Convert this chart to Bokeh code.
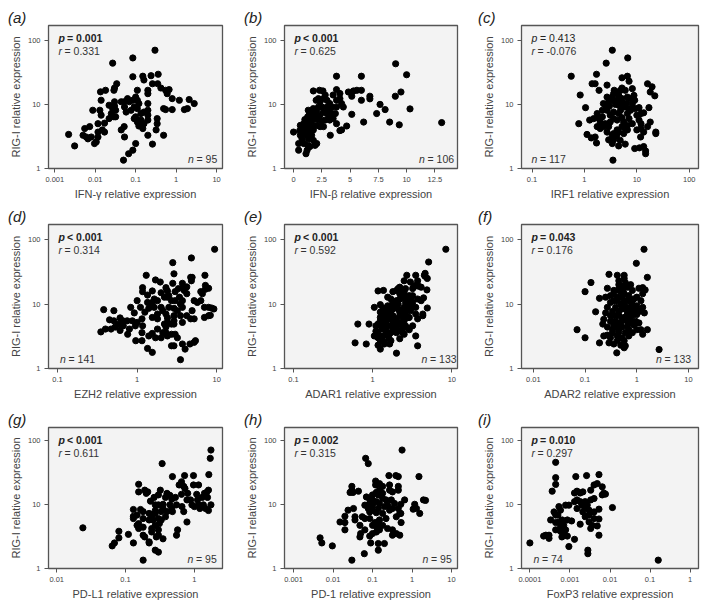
from bokeh.plotting import figure
from bokeh.layouts import row, column
from bokeh.models import Label, FixedTicker, CustomJSTickFormatter, Range1d
from bokeh.embed import file_html
from bokeh.resources import INLINE

FONT = "Liberation Sans"

# ---------------- data ----------------
a_pts = [(0.30,70),(0.027,44),(0.085,53),(0.085,27),(0.15,27.5),(0.24,28),(0.36,29.5),(0.16,24),(0.26,21),(0.35,21),
         (0.42,18),(0.55,16.6),(0.6,14.7),(0.67,17),(0.2,16.6),(0.2,14.7),(0.034,21),(0.030,18),(0.029,16.6),(0.018,16.6),
         (0.0135,15.7),(0.11,16.6),(0.1,13),(0.11,11.6),(0.085,11.6),(0.063,12.3),(0.052,11),(0.07,11),(0.03,11),(0.03,9.4),
         (0.027,8.6),(0.022,9.7),(0.025,7.2),(0.022,6),(0.029,6.4),(0.032,8.1),(0.053,9.1),(0.058,7.6),(0.077,8.1),(0.092,9.1),
         (0.11,8.6),(0.135,7.2),(0.16,7.6),(0.2,8.1),(0.2,10.3),(0.12,10.3),(0.1,6.4),(0.092,6),(0.11,5.3),(0.12,4.6),
         (0.135,5.7),(0.15,4.2),(0.16,5),(0.2,6.8),(0.2,5.7),(0.34,6),(0.34,5),(0.32,4),(0.2,3.3),(0.052,4.5),
         (0.044,4),(0.053,3.1),(0.1,2.45),(0.085,1.93),(0.067,1.7),(0.05,1.35),(0.26,2.4),(0.49,3.3),(0.49,8.6),(0.55,8.3),
         (0.8,8.3),(0.8,12.3),(1.2,11.6),(1.6,8.3),(1.9,8.6),(2.1,11.9),(2.8,10.3),(0.014,6.8),(0.017,5.1),(0.013,8.1),
         (0.0117,5),(0.0087,8.1),(0.0117,3.7),(0.015,4),(0.017,3.7),(0.0117,3.1),(0.008,3.1),(0.0106,2.6),(0.0096,2.45),(0.0073,4.5),
         (0.0055,4.2),(0.005,3.3),(0.006,3.1),(0.0031,2.25),(0.0022,3.4),(0.0066,2.9),(0.032,6.4),(0.044,11),(0.014,11.6)]

b_pts = [(9.03,43),(10,29),(3.8,27.5),(6.0,27.5),(9.0,13.4),(9.5,15.6),(10.3,8.5),(13.1,5.2),(9.35,4.8),(8.5,5.3),
         (7.65,10),(8.1,8.3),(7.35,7.2),(6.75,13.4),(6.75,12.2),(6.2,5.3),(6.0,16.6),(6.0,11.6),(5.15,7),(4.7,4.6),
         (4.25,4.0),(4.1,3.9),(3.8,5),(5.3,16.2),(4.85,15.6),(5.6,16.6),(5.15,13.4),(4.1,14.8),(4.1,12.3),(3.8,17),
         (3.5,14),(4.25,10.3),(4.4,9.1),(3.8,11.6),(3.8,9.1),(3.7,7.2),(3.5,6),(3.2,5.7),(3.4,7.2),(3.1,8.1),
         (3.2,10.3),(2.95,11.6),(2.8,14),(2.6,16.2),(2.3,16.6),(1.75,16.2),(2.65,12.3),(2.35,11),(2.2,9.1),(2.5,9.1),
         (2.05,8.1),(2.65,7.6),(2.95,7.2),(3.1,6),(2.8,5.7),(2.35,6.8),(1.9,7.2),(1.75,8.6),(1.55,7.6),(1.3,8.1),
         (1.4,7),(1.25,6.4),(1.6,6),(1.9,6),(2.2,5.8),(2.5,5.5),(1.6,5),(2.05,4.7),(2.65,4.5),(3.25,3.3),
         (1.2,4.7),(0.9,5),(0.75,4.2),(0.6,4.7),(1.0,4),(1.3,3.9),(0.9,3.5),(0.6,3.3),(1.2,3.3),(0.75,2.9),
         (1.3,2.9),(1.6,3.3),(1.75,2.75),(0.45,2.45),(0.9,2.45),(1.3,2.3),(1.9,2.3),(2.05,2.45),(1.45,2.2),(0.45,1.93),
         (1.2,1.93),(1.1,1.7),(0.0,3.7),(1.6,3.9),(1.3,5.5),(1.0,5.8),(2.0,11.6),(2.2,12.3),(2.95,9.1),(3.4,9.1),
         (0.55,3.9),(0.75,3.7),(1.6,4.5),(1.75,4.0),(2.35,4.5)]

c_pts = [(3.4,70),(6.7,53),(2.6,44),(0.56,27.5),(1.7,29.5),(1.6,21),(1.4,21),(1.9,16.6),(2.7,20),(5.2,26),
         (6.6,27.5),(7.1,23),(8.2,17.6),(16,21),(19.5,18.8),(18,15.6),(22,13.6),(17,8.9),(0.83,14),(1.05,8.9),
         (0.78,5),(1.12,3.4),(1.35,3.0),(1.6,3.1),(1.7,2.5),(1.26,5.7),(1.5,6),(1.9,6),(2.0,5.3),(2.5,5),
         (2.2,6.4),(2.3,4.5),(2.7,3.7),(2.9,4.5),(2.5,9.7),(2.7,8.1),(3.0,9.4),(3.4,11.6),(3.4,13),(3.6,14.7),
         (3.7,16.6),(4.2,15.6),(4.5,13.8),(4.9,16.6),(5.2,18),(6.0,16.6),(4.2,11.6),(3.9,10),(4.9,11),(5.5,9.4),
         (6.3,10.5),(7.6,12.3),(8.8,13.8),(9.1,11.6),(7.1,8.6),(8.2,8.9),(9.4,8.6),(11,8.9),(13.5,7.4),(12,7.2),
         (10,6.8),(4.5,7.2),(3.6,7.6),(3.1,6.8),(5.2,6.2),(4.2,5.7),(5.6,5.3),(7.1,6),(8.2,5),(6.6,4.7),
         (5.2,4.5),(6.0,4.2),(4.2,4),(3.6,3.5),(4.1,3.2),(3.4,3.3),(4.8,2.76),(4.5,2.25),(6.0,2.4),(3.4,2.45),
         (3.5,1.35),(9.1,2.05),(11.2,2.1),(14.7,1.88),(14.7,1.7),(13.5,2.2),(10,4.0),(12,4.2),(13.5,3.7),(16,4.5),
         (11.8,3.1),(23,3.7),(23,3.5),(11,5.7),(12,5),(18,5.3),(1.75,4.5),(2.0,4.2),(1.75,7.2),(2.2,8.1),
         (2.3,10.3),(2.9,11),(2.7,13),(4.5,9.7),(6.0,9.1),(4.9,8.1),(6.6,7.2),(7.6,8.1),(5.2,12.3),(6.6,13),
         (8.2,10.3),(3.6,6),(3.1,5.3),(2.7,4.7),(4.5,3.7),(5.6,3.5),(6.6,4.0),(2.9,2.8),(3.6,2.8)]

d_pts = [(9.4,71),(4.8,52),(2.8,44),(1.3,28),(2.9,29.5),(4.7,26),(4.9,26),(7.1,28),(1.95,22),(1.7,23.7),
         (2.3,18),(2.4,16),(2.8,21),(3.7,21),(3.8,18),(4.2,18.5),(3.4,12.8),(3.0,11.3),(3.5,10),(1.55,16),
         (1.35,13.8),(1.17,18),(1.17,15.6),(1.0,11.3),(1.1,8.9),(1.35,10.6),(1.55,9.4),(1.64,12),(1.8,11.3),(2.0,8.9),
         (2.1,7.9),(1.8,7),(1.55,6.2),(2.3,7),(2.4,6.1),(2.5,8.9),(2.7,11.3),(2.9,8.6),(3.2,7.9),(3.7,8.9),
         (3.5,6.6),(2.9,5.5),(2.7,4.9),(2.3,4.4),(2.1,3.6),(1.8,4.1),(1.55,3.5),(1.4,3.2),(1.7,3.0),(2.0,3.0),
         (2.4,3.2),(2.7,3.4),(3.0,3.4),(3.2,3.0),(2.9,2.25),(2.7,2.25),(3.7,2.4),(4.0,2.0),(4.6,2.4),(5.2,2.55),
         (5.4,2.7),(3.5,1.37),(1.55,1.78),(1.35,2.05),(1.15,3.6),(0.96,2.7),(1.17,4.6),(1.15,5.9),(1.0,5.2),(0.8,4.1),
         (0.67,4.6),(0.76,3.4),(0.61,3.9),(0.53,4.4),(0.58,4.9),(0.51,5.5),(0.45,5.7),(0.47,4.1),(0.4,4.1),(0.35,3.7),
         (0.38,8.2),(0.51,7.9),(0.66,5.5),(0.61,6.1),(0.75,5.5),(0.87,5.5),(0.95,4.6),(0.83,8.9),(0.92,7.3),(1.55,10.6),
         (1.4,8.6),(1.25,7.5),(1.64,8.9),(2.2,12.8),(2.4,12.8),(2.0,15),(2.5,13.5),(3.0,15.6),(3.3,17.4),(3.9,16.3),
         (4.8,23),(4.2,14.5),(6.3,15.6),(6.6,14.5),(7.2,17),(7.9,17.6),(7.2,19.5),(6.3,11.3),(5.2,11.3),(5.7,10.6),
         (4.9,7.9),(5.2,5.9),(4.7,5.9),(7.0,8.9),(7.9,8.9),(8.6,8.7),(7.9,6.6),(7.0,6.2),(9.2,8.4),(8.3,6.7),
         (3.7,11.3),(2.9,6.6),(2.4,5.2),(2.2,4.9),(2.9,4.9),(3.7,5.2),(4.2,6.6),(1.8,5.9),(2.3,3.6),(1.15,2.7)]

e_pts = [(8.4,71),(5.1,45),(4.6,30),(4.6,27),(3.5,28),(2.7,28),(2.5,23),(3.0,22),(3.7,23),(3.5,19.5),
         (3.8,19),(3.2,17.4),(2.6,17.4),(2.5,15.6),(2.1,17.4),(2.0,16.3),(1.8,15.6),(1.37,16.3),(1.17,16),(2.9,13.5),
         (2.4,12.8),(2.2,12),(2.0,11.3),(1.8,10.6),(1.55,9.4),(2.1,10),(2.6,10.6),(3.2,10.6),(3.5,8.9),(2.8,8.4),
         (2.4,7.9),(2.1,8.4),(1.8,8.4),(1.6,7.9),(1.48,8.7),(1.35,8.7),(1.4,7.5),(1.25,7.5),(1.3,6.6),(1.48,6.6),
         (1.8,6.6),(2.2,6.6),(2.5,6.2),(2.9,6.2),(2.0,5.9),(1.6,5.9),(1.4,5.7),(1.25,5.5),(1.17,4.9),(1.3,4.8),
         (1.55,4.6),(1.8,4.9),(2.1,4.8),(2.4,4.4),(2.8,4.2),(3.2,4.6),(2.3,3.8),(2.0,3.6),(1.7,3.6),(1.48,3.8),
         (1.3,4.1),(1.1,3.8),(1.17,3.4),(1.35,3.2),(1.6,3.0),(2.2,2.9),(2.5,3.4),(2.9,4.0),(1.05,3.2),(1.25,2.7),
         (1.4,2.6),(1.64,2.4),(1.7,2.7),(1.17,2.3),(1.25,2.0),(2.0,1.73),(3.7,2.25),(3.5,3.2),(0.83,2.4),(0.6,2.5),
         (0.65,4.9),(0.9,4.9),(3.5,7.0),(4.3,7.0),(4.3,6.6),(4.4,12.5),(4.85,16.6),(4.9,8.7),(4.9,25),(4.5,28),
         (4.1,18.3),(3.2,13.5),(4.1,11.3),(3.0,7.9),(3.7,5.9),(2.5,5.5),(2.4,16.3),(2.2,18.3),(2.2,14.5),(1.7,12),
         (1.55,12.8),(1.25,9.8),(1.05,8.9),(1.8,10),(2.5,8.9),(2.9,10),(3.2,8.9),(1.35,5.9),(1.48,5.2),(1.8,4.1),
         (2.0,4.1),(1.55,3.4),(1.4,2.4),(1.17,3.0),(2.4,3.6),(2.8,6.2),(1.7,7.0),(2.2,7.5),(2.6,7.0),(3.0,12),
         (3.7,12),(2.6,12.8),(2.0,8.9),(1.6,8.9),(1.35,7.0),(1.25,6.2),(1.1,4.6),(1.48,4.4),(1.8,5.5),(2.3,5.2),
         (2.6,4.6),(3.3,18.3)]

f_pts = [(1.38,71),(0.98,43),(1.6,26),(0.29,29),(0.42,28),(0.57,28),(0.45,23),(0.6,21.6),(0.13,21.6),(0.76,20),
         (1.1,17.6),(1.3,18),(1.45,16.6),(0.27,17.6),(0.36,16.3),(0.44,16.6),(0.54,16),(0.1,15.6),(0.19,12.3),(0.36,14.5),
         (0.57,14.5),(0.7,13.5),(0.88,12),(0.66,11.3),(0.52,12.8),(0.42,11.3),(0.31,10.6),(0.49,10),(0.82,10),(1.0,9.4),
         (1.3,8.9),(1.4,7.3),(1.1,7.7),(0.88,6.9),(0.66,7.3),(0.52,8.4),(0.39,8.9),(0.34,7.7),(0.27,8.9),(0.25,7.3),
         (0.16,7.6),(0.31,6.6),(0.45,6.6),(0.57,6.2),(0.76,6.2),(0.95,5.4),(0.66,5.3),(0.49,5.1),(0.39,5.4),(0.31,5.4),
         (0.22,4.9),(0.27,4.4),(0.36,4.7),(0.42,4.4),(0.52,4.4),(0.7,4.0),(0.88,4.7),(1.1,5.1),(1.2,4.0),(1.6,4.0),
         (1.3,3.4),(0.82,3.6),(0.6,3.6),(0.45,3.7),(0.34,3.6),(0.27,3.3),(0.23,3.2),(0.31,3.0),(0.42,3.2),(0.29,2.5),
         (0.36,2.4),(0.49,2.3),(0.57,2.1),(0.6,2.25),(0.41,1.75),(0.19,2.5),(0.1,3.0),(0.07,4.0),(2.7,1.97),(0.82,16.3),
         (0.66,18.3),(0.52,18.7),(1.0,12.8),(0.7,8.9),(0.57,10),(0.45,7.7),(0.36,6.6),(0.23,5.8),(0.25,12.8),(0.42,12.8),
         (0.6,8.4),(0.76,7.7),(1.0,6.9),(0.95,7.7),(0.82,5.1),(0.66,4.5),(0.52,5.6),(0.45,4.9),(0.34,4.0),(1.0,4.0),
         (0.7,3.2),(0.52,3.0),(0.57,2.7),(0.42,2.7),(0.66,6.2),(0.82,6.9),(0.57,11.3),(0.73,11.3),(0.88,8.9),(1.2,11.3),
         (1.3,14.5),(0.31,13.5),(0.36,11.3),(0.49,15.6),(0.45,20),(0.57,25)]

g_pts = [(1.74,70),(1.7,52),(1.62,29),(0.34,43),(0.48,27),(0.72,28),(0.97,28),(0.65,22.4),(0.6,20),(0.7,19),
         (1.15,20),(1.6,16.6),(1.5,15.3),(1.4,14.8),(1.08,14.3),(0.65,14.3),(0.78,11.7),(0.88,11.7),(0.53,12.8),(0.44,13.8),
         (0.4,14.8),(0.32,16.6),(0.3,14),(0.38,12.8),(0.35,10),(0.44,9.8),(0.47,8.6),(0.48,7.7),(0.4,7.7),(0.33,7.7),
         (0.3,9.8),(0.27,9.8),(0.26,12.8),(0.23,11.2),(0.2,14.8),(0.155,20.5),(0.19,16.6),(0.21,15.6),(0.155,15.6),(0.27,7.2),
         (0.24,6.8),(0.22,7.2),(0.18,7.7),(0.165,8.3),(0.18,6),(0.22,5.7),(0.25,5.7),(0.3,6),(0.33,5.7),(0.38,6.4),
         (0.31,5.0),(0.27,4.7),(0.24,4.2),(0.3,4.0),(0.24,3.7),(0.3,3.3),(0.35,2.9),(0.28,3.1),(0.22,2.6),(0.27,1.93),
         (0.3,1.8),(0.19,3.1),(0.18,4.4),(0.155,5),(0.147,6.8),(0.13,6),(0.13,8.3),(0.155,4.2),(0.147,4.7),(0.22,2.5),
         (0.18,3.3),(0.13,6.5),(0.11,3.4),(0.08,3.8),(0.08,3.0),(0.069,2.5),(0.064,2.25),(0.13,2.5),(0.18,1.35),(0.024,4.3),
         (0.55,3.3),(0.57,4.0),(0.78,5.3),(0.7,7.7),(0.66,9.2),(0.55,9.8),(0.47,12),(0.8,14.8),(0.92,9.8),(1.0,9.2),
         (1.11,11.7),(1.15,9.8),(1.3,12.8),(1.35,9.8),(1.45,8.6),(1.6,8),(1.74,9.8),(1.55,12.8),(1.2,8.6),(0.73,17.6),
         (0.97,20),(0.35,8.6),(0.27,8.0)]

h_pts = [(0.56,70),(0.067,52),(0.078,43),(1.5,27),(0.26,28),(0.39,28),(0.45,27),(0.12,23),(0.12,20),(0.15,21),
         (0.18,19),(0.27,20),(0.45,19),(0.45,16.6),(0.03,19),(0.03,16.6),(0.027,15.3),(0.044,16),(0.032,15.3),(0.07,13),
         (0.085,12),(0.1,11.7),(0.125,11),(0.085,10.3),(0.1,9.7),(0.064,9.7),(0.125,15.3),(0.14,14),(0.15,16.6),(0.18,14.8),
         (0.18,12.4),(0.22,11.7),(0.24,9.7),(0.2,9.2),(0.15,10.3),(0.14,8.6),(0.1,8.1),(0.085,7.6),(0.078,8.6),(0.125,7.4),
         (0.18,7.2),(0.27,8.1),(0.32,8.6),(0.36,10.3),(0.45,8.6),(0.49,7.2),(0.4,6.4),(0.53,5.2),(0.32,4.0),(0.4,3.5),
         (0.32,3.3),(0.49,3.3),(0.24,4.2),(0.22,6),(0.15,5.7),(0.14,5),(0.115,5.2),(0.125,4.5),(0.1,4.7),(0.15,4),
         (0.125,3.7),(0.1,3.5),(0.085,3.2),(0.064,4),(0.048,4.7),(0.064,6),(0.055,6.4),(0.036,6.4),(0.036,5.7),(0.048,3.1),
         (0.05,3.5),(0.033,8.6),(0.024,8.1),(0.02,6.5),(0.02,5.2),(0.02,4),(0.015,5.3),(0.0047,3.0),(0.0052,2.5),(0.0096,2.25),
         (0.03,1.35),(0.062,1.7),(0.09,2.5),(0.14,1.93),(0.14,2.45),(0.2,2.45),(0.3,11.7),(0.32,15.6),(0.52,10),(0.52,7.2),
         (0.65,11.7),(1.17,10),(1.3,8.6),(1.07,8.4),(1.57,7.2),(1.95,11.7),(2.2,11.5),(0.1,14),(0.27,16.6),(0.085,6),
         (0.18,4.7)]

i_pts = [(0.00044,45),(0.00044,26),(0.00044,20.4),(0.0014,27),(0.0026,28),(0.0053,29),(0.004,20),(0.0048,21),(0.0033,16.6),(0.0015,16),
         (0.0018,15),(0.0021,15.6),(0.007,15),(0.0077,14.4),(0.0064,14),(0.00036,16),(0.0013,11),(0.0015,11.7),(0.0018,11),(0.002,9.7),
         (0.0024,11),(0.0027,9.7),(0.0024,8.8),(0.0033,11.7),(0.004,12.3),(0.003,8.1),(0.0053,8.4),(0.0115,8.9),(0.00078,9.7),(0.00094,9.7),
         (0.00053,9.2),(0.0004,7.6),(0.0005,6.8),(0.00058,8.1),(0.00044,6.8),(0.00064,5.7),(0.00053,5.3),(0.00044,5.2),(0.00086,5.7),(0.0007,4.7),
         (0.00058,4.5),(0.00044,4),(0.00058,3.8),(0.00078,4),(0.0007,3.5),(0.00086,3.2),(0.00063,3.1),(0.0011,5.5),(0.0018,4.9),(0.003,5.3),
         (0.0033,4.2),(0.0036,4.7),(0.0048,4.6),(0.0053,5.9),(0.0053,3.3),(0.004,6),(0.0024,6.4),(0.003,6.8),(0.004,7.6),(0.00025,3.3),
         (0.0003,3.3),(0.0003,2.95),(0.00022,3.2),(0.0001,2.5),(0.0013,2.85),(0.00094,2.2),(0.0028,1.93),(0.0028,1.7),(0.16,1.35),(0.00033,5.7),
         (0.0015,8.6),(0.0021,7.6),(0.0013,15),(0.0064,18.7)]

x_labels = ["IFN-\u03b3 relative expression", "IFN-\u03b2 relative expression", "IRF1 relative expression",
            "EZH2 relative expression", "ADAR1 relative expression", "ADAR2 relative expression",
            "PD-L1 relative expression", "PD-1 relative expression", "FoxP3 relative expression"]
y_label = "RIG-I relative expression"
panel_titles = ["(a)", "(b)", "(c)", "(d)", "(e)", "(f)", "(g)", "(h)", "(i)"]
p_texts = ["= 0.001", "< 0.001", "= 0.413", "< 0.001", "< 0.001", "= 0.043", "< 0.001", "= 0.002", "= 0.010"]
p_bold = [True, True, False, True, True, True, True, True, True]
r_texts = ["= 0.331", "= 0.625", "= -0.076", "= 0.314", "= 0.592", "= 0.176", "= 0.611", "= 0.315", "= 0.297"]
n_texts = ["= 95", "= 106", "= 117", "= 141", "= 133", "= 133", "= 95", "= 95", "= 74"]
x_ticks = [[0.001, 0.01, 0.1, 1, 10], [0, 2.5, 5, 7.5, 10, 12.5], [0.1, 1, 10, 100],
           [0.1, 1, 10], [0.1, 1, 10], [0.01, 0.1, 1, 10],
           [0.01, 0.1, 1], [0.001, 0.01, 0.1, 1, 10], [0.0001, 0.001, 0.01, 0.1, 1]]
y_ticks = [1, 10, 100]
all_pts = [a_pts, b_pts, c_pts, d_pts, e_pts, f_pts, g_pts, h_pts, i_pts]

# ---------------- layout / styling ----------------
x_types = ["log", "linear", "log", "log", "log", "log", "log", "log", "log"]
x_ranges = [(0.0007, 14), (-0.8, 14.5), (0.063, 150), (0.077, 11.8), (0.077, 11.8), (0.0059, 15.6),
            (0.0076, 2.56), (0.00059, 14.2), (0.0000617, 1.62)]
y_tops = [170, 170, 170, 172, 172, 172, 157, 157, 157]
n_left = [139.5, 134.5, 10, 11.5, 137, 134.5, 139, 138, 12]

# page has no margin: first column / row carry the extra 8px
cols = [dict(w=240, bl=48, fw=174, lx=-40.5), dict(w=234, bl=44, fw=173, lx=-40.5), dict(w=227, bl=47, fw=177, lx=-43.5)]
rows_ = [dict(h=205, bt=25, fh=143, st=-1), dict(h=199, bt=19, fh=144, st=-1), dict(h=199, bt=23, fh=141, st=0)]

GRAY = "#555555"
formatter = CustomJSTickFormatter(code="return String(Number(tick.toPrecision(4)));")


def txt(p, x, y, text, size, style="normal", color="#333333", align="left"):
    p.add_layout(Label(x=x, y=y, x_units="screen", y_units="screen", text=text,
                       text_font=FONT, text_font_size=size, text_font_style=style,
                       text_color=color, text_align=align, text_baseline="middle"))


def make_panel(k):
    ci, ri = k % 3, k // 3
    c, r = cols[ci], rows_[ri]
    fw, fh = c["fw"], r["fh"]
    p = figure(width=c["w"], height=r["h"], x_axis_type=x_types[k], y_axis_type="log",
               x_range=Range1d(*x_ranges[k]), y_range=Range1d(1, y_tops[k]),
               output_backend="svg", toolbar_location=None, title=panel_titles[k], tools="")
    p.min_border = 0
    p.min_border_left = c["bl"]
    p.min_border_right = c["w"] - c["bl"] - fw
    p.min_border_top = r["bt"]
    p.min_border_bottom = r["h"] - r["bt"] - fh
    p.background_fill_color = "#f3f3f3"
    p.border_fill_color = "white"
    p.outline_line_color = GRAY
    p.outline_line_width = 1.3
    p.grid.visible = False

    p.title.align = "left"
    p.title.offset = c["lx"]
    p.title.standoff = r["st"]
    p.title.text_font = FONT
    p.title.text_font_size = "15px"
    p.title.text_font_style = "italic"
    p.title.text_color = "#222222"

    for ax, ticks in ((p.xaxis[0], x_ticks[k]), (p.yaxis[0], y_ticks)):
        ax.ticker = FixedTicker(ticks=ticks, minor_ticks=[])
        ax.formatter = formatter
        ax.axis_line_color = None
        ax.major_tick_in = 0
        ax.major_tick_out = 4
        ax.major_tick_line_color = GRAY
        ax.major_tick_line_width = 1
        ax.minor_tick_line_color = None
        ax.major_label_text_font = FONT
        ax.major_label_text_font_size = "7.5px"
        ax.major_label_text_color = "#444444"
        ax.axis_label_text_font = FONT
        ax.axis_label_text_font_size = "11px"
        ax.axis_label_text_font_style = "normal"
        ax.axis_label_text_color = "#444444"
    p.xaxis.major_label_standoff = 4
    p.xaxis.axis_label_standoff = 3
    p.yaxis.major_label_standoff = 4
    p.yaxis.axis_label_standoff = 3
    p.xaxis.axis_label = x_labels[k]
    p.yaxis.axis_label = y_label

    xs = [pt[0] for pt in all_pts[k]]
    ys = [pt[1] for pt in all_pts[k]]
    p.scatter(xs, ys, size=6.2, color="black", line_color="black")

    # statistics
    bold = p_bold[k]
    txt(p, 10, fh - 12, "p", "10.5px", style="bold italic" if bold else "italic", color="#222222")
    txt(p, 18.5, fh - 12, p_texts[k], "10.5px", style="bold" if bold else "normal", color="#222222")
    txt(p, 10, fh - 25.5, "r", "10.5px", style="italic", color="#333333")
    txt(p, 16, fh - 25.5, r_texts[k], "10.5px", color="#333333")
    txt(p, n_left[k], 10, "n", "10.5px", style="italic", color="#333333")
    txt(p, n_left[k] + 8.5, 10, n_texts[k], "10.5px", color="#333333")
    return p


figs = [make_panel(k) for k in range(9)]
layout = column(row(*figs[0:3], spacing=0), row(*figs[3:6], spacing=0), row(*figs[6:9], spacing=0), spacing=0)

open("out.html", "w").write(file_html(layout, INLINE))
